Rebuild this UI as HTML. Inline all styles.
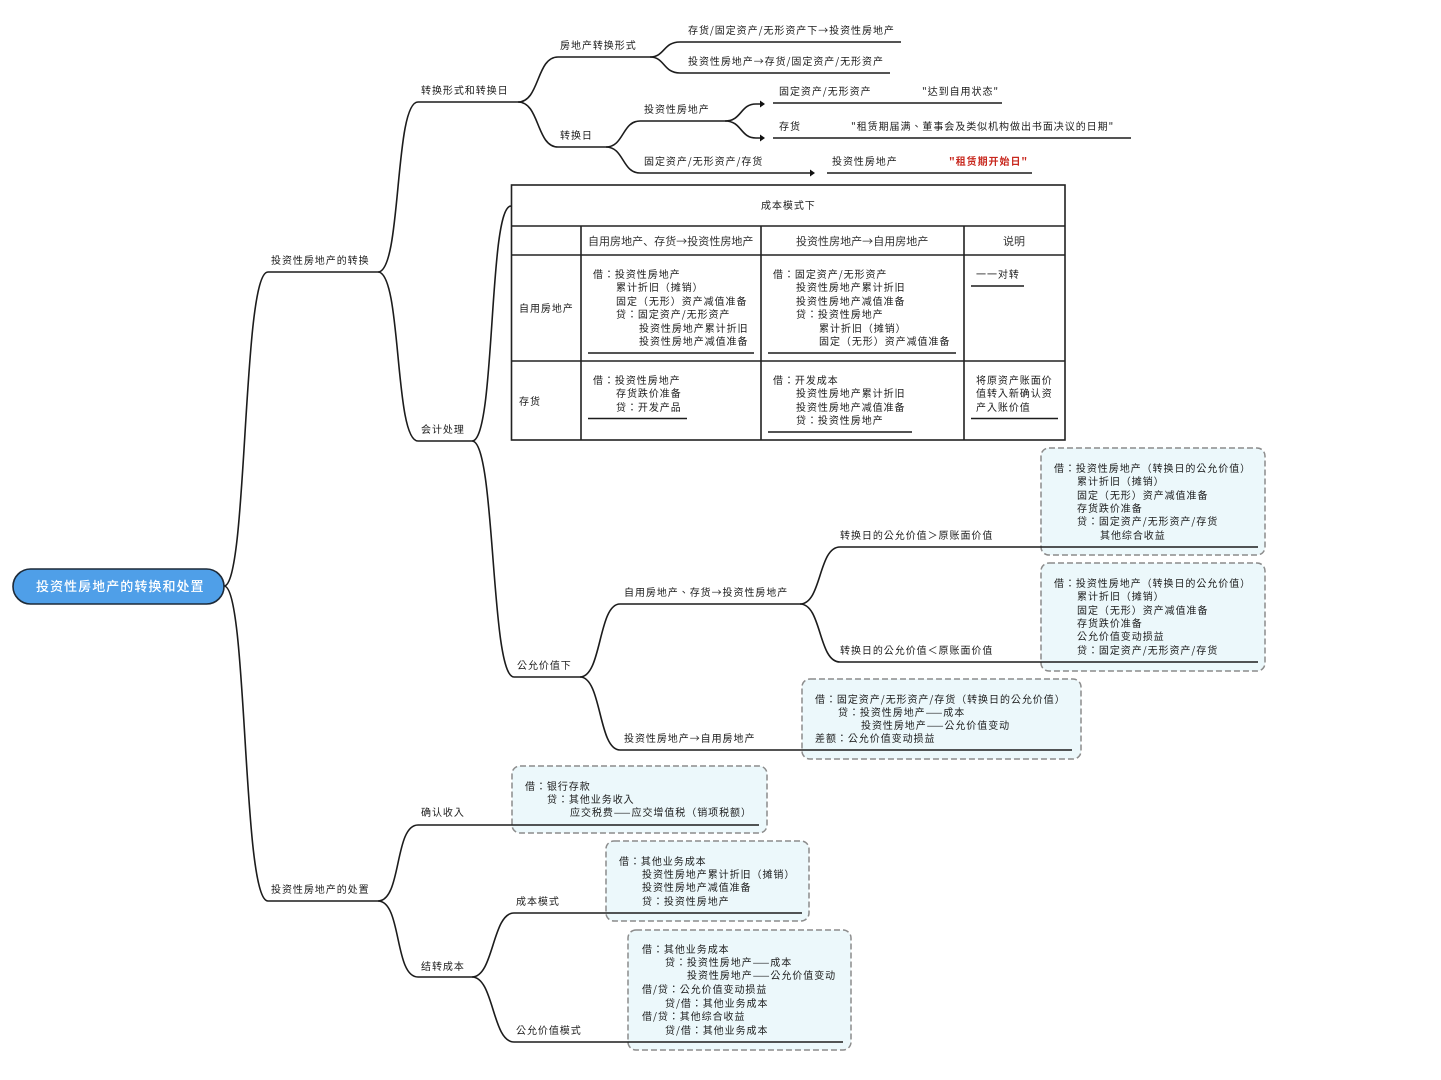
<!DOCTYPE html>
<html><head><meta charset="utf-8"><style>
html,body{margin:0;padding:0;background:#fff}
svg{display:block}
text{font-family:"WenQuanYi Zen Hei","Noto Sans CJK TC",sans-serif;font-size:10px;letter-spacing:.95px;fill:#1c1c1c}
.h{font-family:"Noto Sans CJK SC",sans-serif;font-size:11px;letter-spacing:.03px;fill:#333}
.c{fill:none;stroke:#1c1c1c;stroke-width:1.6}
.b{fill:#ecf8fb;stroke:#8c8c8c;stroke-width:1.5;stroke-dasharray:6 3}
.g{fill:none;stroke:#222;stroke-width:1.6}
</style></head><body>
<svg width="1441" height="1080" viewBox="0 0 1441 1080" xmlns="http://www.w3.org/2000/svg">
<rect width="1441" height="1080" fill="#fff"/>
<!-- dashed boxes -->
<rect class="b" x="1041" y="448" width="224" height="107" rx="8"/>
<rect class="b" x="1041" y="563" width="224" height="108" rx="8"/>
<rect class="b" x="802" y="679" width="279" height="80" rx="8"/>
<rect class="b" x="512" y="766" width="255" height="67" rx="8"/>
<rect class="b" x="606" y="841" width="203" height="80" rx="8"/>
<rect class="b" x="628" y="930" width="223" height="120" rx="8"/>
<!-- connectors -->
<g class="c">
<path d="M224,586C248,586 242,272 268,272H378"/>
<path d="M224,586C248,586 242,901 268,901H378"/>
<path d="M378,272C402,272 394,102 418,102H518"/>
<path d="M378,272C402,272 394,441 418,441H472"/>
<path d="M518,102C540,102 536,57 558,57H650"/>
<path d="M518,102C540,102 536,147 558,147H606"/>
<path d="M650,57C665,57 663,42 680,42H901"/>
<path d="M650,57C665,57 663,73 680,73H890"/>
<path d="M606,147C624,147 622,121 640,121H725"/>
<path d="M606,147C624,147 622,173 640,173H811"/>
<path d="M725,121C742,121 740,104 756,104H760"/>
<path d="M725,121C742,121 740,138 756,138H760"/>
<path d="M773,103H1002M773,138H1131M827,173H1032"/>
<path d="M472,441C496,441 488,206 511,206"/>
<path d="M472,441C496,441 490,677 514,677H580"/>
<path d="M580,677C602,677 598,604 620,604H800"/>
<path d="M580,677C602,677 598,750 620,750H1072"/>
<path d="M800,604C822,604 818,547 840,547H1258"/>
<path d="M800,604C822,604 818,662 840,662H1258"/>
<path d="M378,901C402,901 394,825 418,825H759"/>
<path d="M378,901C402,901 394,977 418,977H472"/>
<path d="M472,977C494,977 492,913 514,913H802"/>
<path d="M472,977C494,977 492,1042 514,1042H843"/>
<path d="M588,353H754M768,353H956M971,286H1024M588,418.500H687M768,432H912M971,418.500H1058"/>
</g>
<path d="M760,100.500L765,104L760,107.500ZM760,134.500L765,138L760,141.500ZM810,169.500L815,173L810,176.500Z" fill="#111"/>
<!-- root -->
<rect x="13" y="569" width="211" height="35" rx="17.500" fill="#4f9fe8" stroke="#1d2a38" stroke-width="1.6"/>
<text x="36" y="591" style="font-size:13px;letter-spacing:1.05px;fill:#fff;font-weight:500">投资性房地产的转换和处置</text>
<!-- table -->
<g class="g">
<rect x="511.500" y="185" width="553.500" height="255"/>
<path d="M511.500,226H1065M511.500,255H1065M511.500,361H1065M581,226V440M761,226V440M964,226V440"/>
</g>
<!-- labels -->
<text x="271" y="264">投资性房地产的转换</text>
<text x="271" y="893">投资性房地产的处置</text>
<text x="421" y="94">转换形式和转换日</text>
<text x="421" y="433">会计处理</text>
<text x="421" y="816">确认收入</text>
<text x="421" y="970">结转成本</text>
<text x="560" y="49">房地产转换形式</text>
<text x="560" y="139">转换日</text>
<text x="688" y="34">存货/固定资产/无形资产下→投资性房地产</text>
<text x="688" y="65">投资性房地产→存货/固定资产/无形资产</text>
<text x="644" y="113">投资性房地产</text>
<text x="644" y="165">固定资产/无形资产/存货</text>
<text x="779" y="95">固定资产/无形资产</text>
<text x="922" y="95">"达到自用状态"</text>
<text x="779" y="130">存货</text>
<text x="851" y="130">"租赁期届满、董事会及类似机构做出书面决议的日期"</text>
<text x="832" y="165">投资性房地产</text>
<text x="949" y="165" style="fill:#c8281e;font-weight:700">"租赁期开始日"</text>
<!-- table text -->
<text x="761" y="209">成本模式下</text>
<text class="h" x="588" y="245">自用房地产、存货→投资性房地产</text>
<text class="h" x="796" y="245">投资性房地产→自用房地产</text>
<text class="h" x="1003" y="245">说明</text>
<text x="519" y="312">自用房地产</text>
<text x="519" y="405">存货</text>
<text x="593" y="278">借：投资性房地产</text>
<text x="616" y="291">累计折旧（摊销）</text>
<text x="616" y="305">固定（无形）资产减值准备</text>
<text x="616" y="318">贷：固定资产/无形资产</text>
<text x="639" y="332">投资性房地产累计折旧</text>
<text x="639" y="345">投资性房地产减值准备</text>
<text x="773" y="278">借：固定资产/无形资产</text>
<text x="796" y="291">投资性房地产累计折旧</text>
<text x="796" y="305">投资性房地产减值准备</text>
<text x="796" y="318">贷：投资性房地产</text>
<text x="819" y="332">累计折旧（摊销）</text>
<text x="819" y="345">固定（无形）资产减值准备</text>
<text x="976" y="278">一一对转</text>
<text x="593" y="384">借：投资性房地产</text>
<text x="616" y="397">存货跌价准备</text>
<text x="616" y="411">贷：开发产品</text>
<text x="773" y="384">借：开发成本</text>
<text x="796" y="397">投资性房地产累计折旧</text>
<text x="796" y="411">投资性房地产减值准备</text>
<text x="796" y="424">贷：投资性房地产</text>
<text x="976" y="384">将原资产账面价</text>
<text x="976" y="397">值转入新确认资</text>
<text x="976" y="411">产入账价值</text>
<!-- fair value -->
<text x="517" y="669">公允价值下</text>
<text x="624" y="596">自用房地产、存货→投资性房地产</text>
<text x="624" y="742">投资性房地产→自用房地产</text>
<text x="840" y="539">转换日的公允价值＞原账面价值</text>
<text x="840" y="654">转换日的公允价值＜原账面价值</text>
<text x="1054" y="472">借：投资性房地产（转换日的公允价值）</text>
<text x="1077" y="485">累计折旧（摊销）</text>
<text x="1077" y="499">固定（无形）资产减值准备</text>
<text x="1077" y="512">存货跌价准备</text>
<text x="1077" y="525">贷：固定资产/无形资产/存货</text>
<text x="1100" y="539">其他综合收益</text>
<text x="1054" y="587">借：投资性房地产（转换日的公允价值）</text>
<text x="1077" y="600">累计折旧（摊销）</text>
<text x="1077" y="614">固定（无形）资产减值准备</text>
<text x="1077" y="627">存货跌价准备</text>
<text x="1077" y="640">公允价值变动损益</text>
<text x="1077" y="654">贷：固定资产/无形资产/存货</text>
<text x="815" y="703">借：固定资产/无形资产/存货（转换日的公允价值）</text>
<text x="838" y="716">贷：投资性房地产——成本</text>
<text x="861" y="729">投资性房地产——公允价值变动</text>
<text x="815" y="742">差额：公允价值变动损益</text>
<!-- disposal -->
<text x="525" y="790">借：银行存款</text>
<text x="547" y="803">贷：其他业务收入</text>
<text x="570" y="816">应交税费——应交增值税（销项税额）</text>
<text x="516" y="905">成本模式</text>
<text x="516" y="1034">公允价值模式</text>
<text x="619" y="865">借：其他业务成本</text>
<text x="642" y="878">投资性房地产累计折旧（摊销）</text>
<text x="642" y="891">投资性房地产减值准备</text>
<text x="642" y="905">贷：投资性房地产</text>
<text x="642" y="953">借：其他业务成本</text>
<text x="665" y="966">贷：投资性房地产——成本</text>
<text x="687" y="979">投资性房地产——公允价值变动</text>
<text x="642" y="993">借/贷：公允价值变动损益</text>
<text x="665" y="1007">贷/借：其他业务成本</text>
<text x="642" y="1020">借/贷：其他综合收益</text>
<text x="665" y="1034">贷/借：其他业务成本</text>
</svg>
</body></html>
